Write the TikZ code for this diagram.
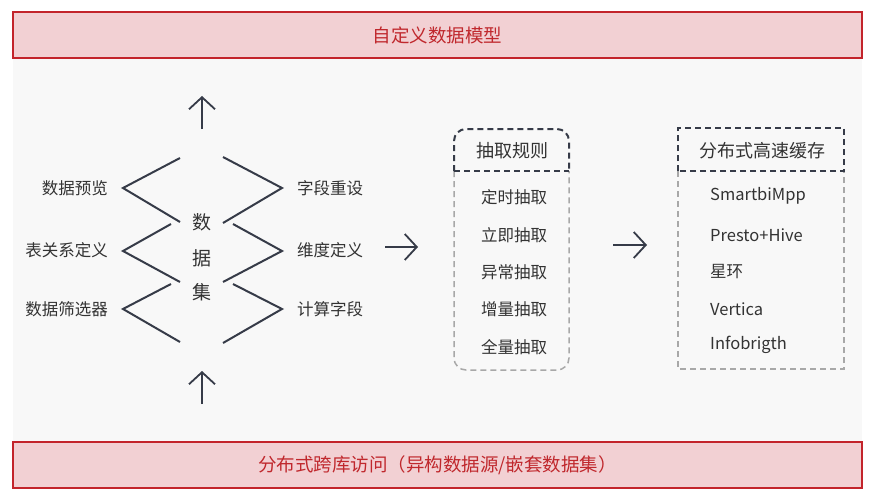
\documentclass[tikz,border=0pt]{standalone}
\usepackage{fontspec}
\setmainfont{Noto Sans CJK SC}
\usetikzlibrary{arrows.meta}
\definecolor{bannerfill}{HTML}{F2D0D3}
\definecolor{bannerline}{HTML}{C3242B}
\definecolor{bannertext}{HTML}{C0282D}
\definecolor{panelbg}{HTML}{F8F8F8}
\definecolor{ink}{HTML}{363B48}
\definecolor{txt}{HTML}{333333}
\definecolor{lightdash}{HTML}{A8A8A8}
\tikzset{
  banner/.style={draw=bannerline, line width=2pt, fill=bannerfill, text=bannertext,
    minimum width=849, minimum height=46, inner sep=0pt,
    font=\fontsize{18.5}{20}\selectfont},
  lbl/.style={text=txt, inner sep=0pt, font=\fontsize{16.5}{18}\selectfont},
  centerchar/.style={text=txt, inner sep=0pt, font=\fontsize{19}{20}\selectfont},
  hdr/.style={text=txt, inner sep=0pt, font=\fontsize{18}{20}\selectfont},
  zig/.style={draw=ink, line width=2pt},
  barrow/.style={draw=ink, line width=1.8pt, -{Straight Barb[length=12pt,width=26pt,line width=1.8pt]}},
  darkdash/.style={draw=ink, line width=2pt, dash pattern=on 6pt off 4pt},
  lightdashed/.style={draw=lightdash, line width=1.5pt, dash pattern=on 6pt off 4pt},
}
\begin{document}
\begin{tikzpicture}[x=1pt,y=-1pt]
\useasboundingbox[fill=white] (0,0) rectangle (871,495);
% grey panel
\fill[panelbg] (13,58) rectangle (862,442);
% banners
\node[banner] (topb) at (437.5,35) {自定义数据模型};
\node[banner] (botb) at (437.5,465) {分布式跨库访问（异构数据源/嵌套数据集）};
% up arrows
\coordinate (ua1s) at (202,129);
\coordinate (ua1e) at (202,96);
\coordinate (ua2s) at (202,404);
\coordinate (ua2e) at (202,371);
\draw[barrow] (ua1s) -- (ua1e);
\draw[barrow] (ua2s) -- (ua2e);
% zigzags left
\draw[zig] (180,158) -- (123,188) -- (180,222);
\draw[zig] (171,224) -- (123,251) -- (180,282);
\draw[zig] (171,284) -- (123,309) -- (180,342);
% zigzags right
\draw[zig] (223,157) -- (282,188) -- (223,223);
\draw[zig] (233,224) -- (282,251) -- (223,282);
\draw[zig] (233,284) -- (282,309) -- (223,343);
% center chars
\node[centerchar] (c1) at (202,222) {数};
\node[centerchar] (c2) at (202,258) {据};
\node[centerchar] (c3) at (202,292) {集};
% left labels
\node[lbl, anchor=east] (l1) at (108,188) {数据预览};
\node[lbl, anchor=east] (l2) at (108,250) {表关系定义};
\node[lbl, anchor=east] (l3) at (108,309) {数据筛选器};
% right labels
\node[lbl, anchor=west] (r1) at (297,188) {字段重设};
\node[lbl, anchor=west] (r2) at (297,250) {维度定义};
\node[lbl, anchor=west] (r3) at (297,309) {计算字段};
% arrow 1
\coordinate (ra1s) at (385,247);
\coordinate (ra1e) at (418,247);
\draw[barrow] (ra1s) -- (ra1e);
% left box
\draw[lightdashed, rounded corners=12pt] (454,171) -- (454,370) -- (569,370) -- (569,171);
\draw[darkdash, rounded corners=12pt] (454,171) -- (454,129) -- (569,129) -- (569,171);
\draw[darkdash] (454,171) -- (569,171);
\node[hdr] (h1) at (512,151) {抽取规则};
\node[lbl] (e1) at (514,197) {定时抽取};
\node[lbl] (e2) at (514,235) {立即抽取};
\node[lbl] (e3) at (514,272) {异常抽取};
\node[lbl] (e4) at (514,309) {增量抽取};
\node[lbl] (e5) at (514,347) {全量抽取};
% arrow 2
\coordinate (ra2s) at (613,245);
\coordinate (ra2e) at (647,245);
\draw[barrow] (ra2s) -- (ra2e);
% right box
\draw[lightdashed] (678,171) -- (678,369) -- (844,369) -- (844,171);
\draw[darkdash] (678,171) -- (678,128) -- (844,128) -- (844,171) -- cycle;
\node[hdr] (h2) at (762,151) {分布式高速缓存};
\node[lbl, anchor=west] (s1) at (710,196) {SmartbiMpp};
\node[lbl, anchor=west] (s2) at (710,235) {Presto+Hive};
\node[lbl, anchor=west] (s3) at (710,272) {星环};
\node[lbl, anchor=west] (s4) at (710,309) {Vertica};
\node[lbl, anchor=west] (s5) at (710,345) {Infobrigth};
\end{tikzpicture}
\end{document}
